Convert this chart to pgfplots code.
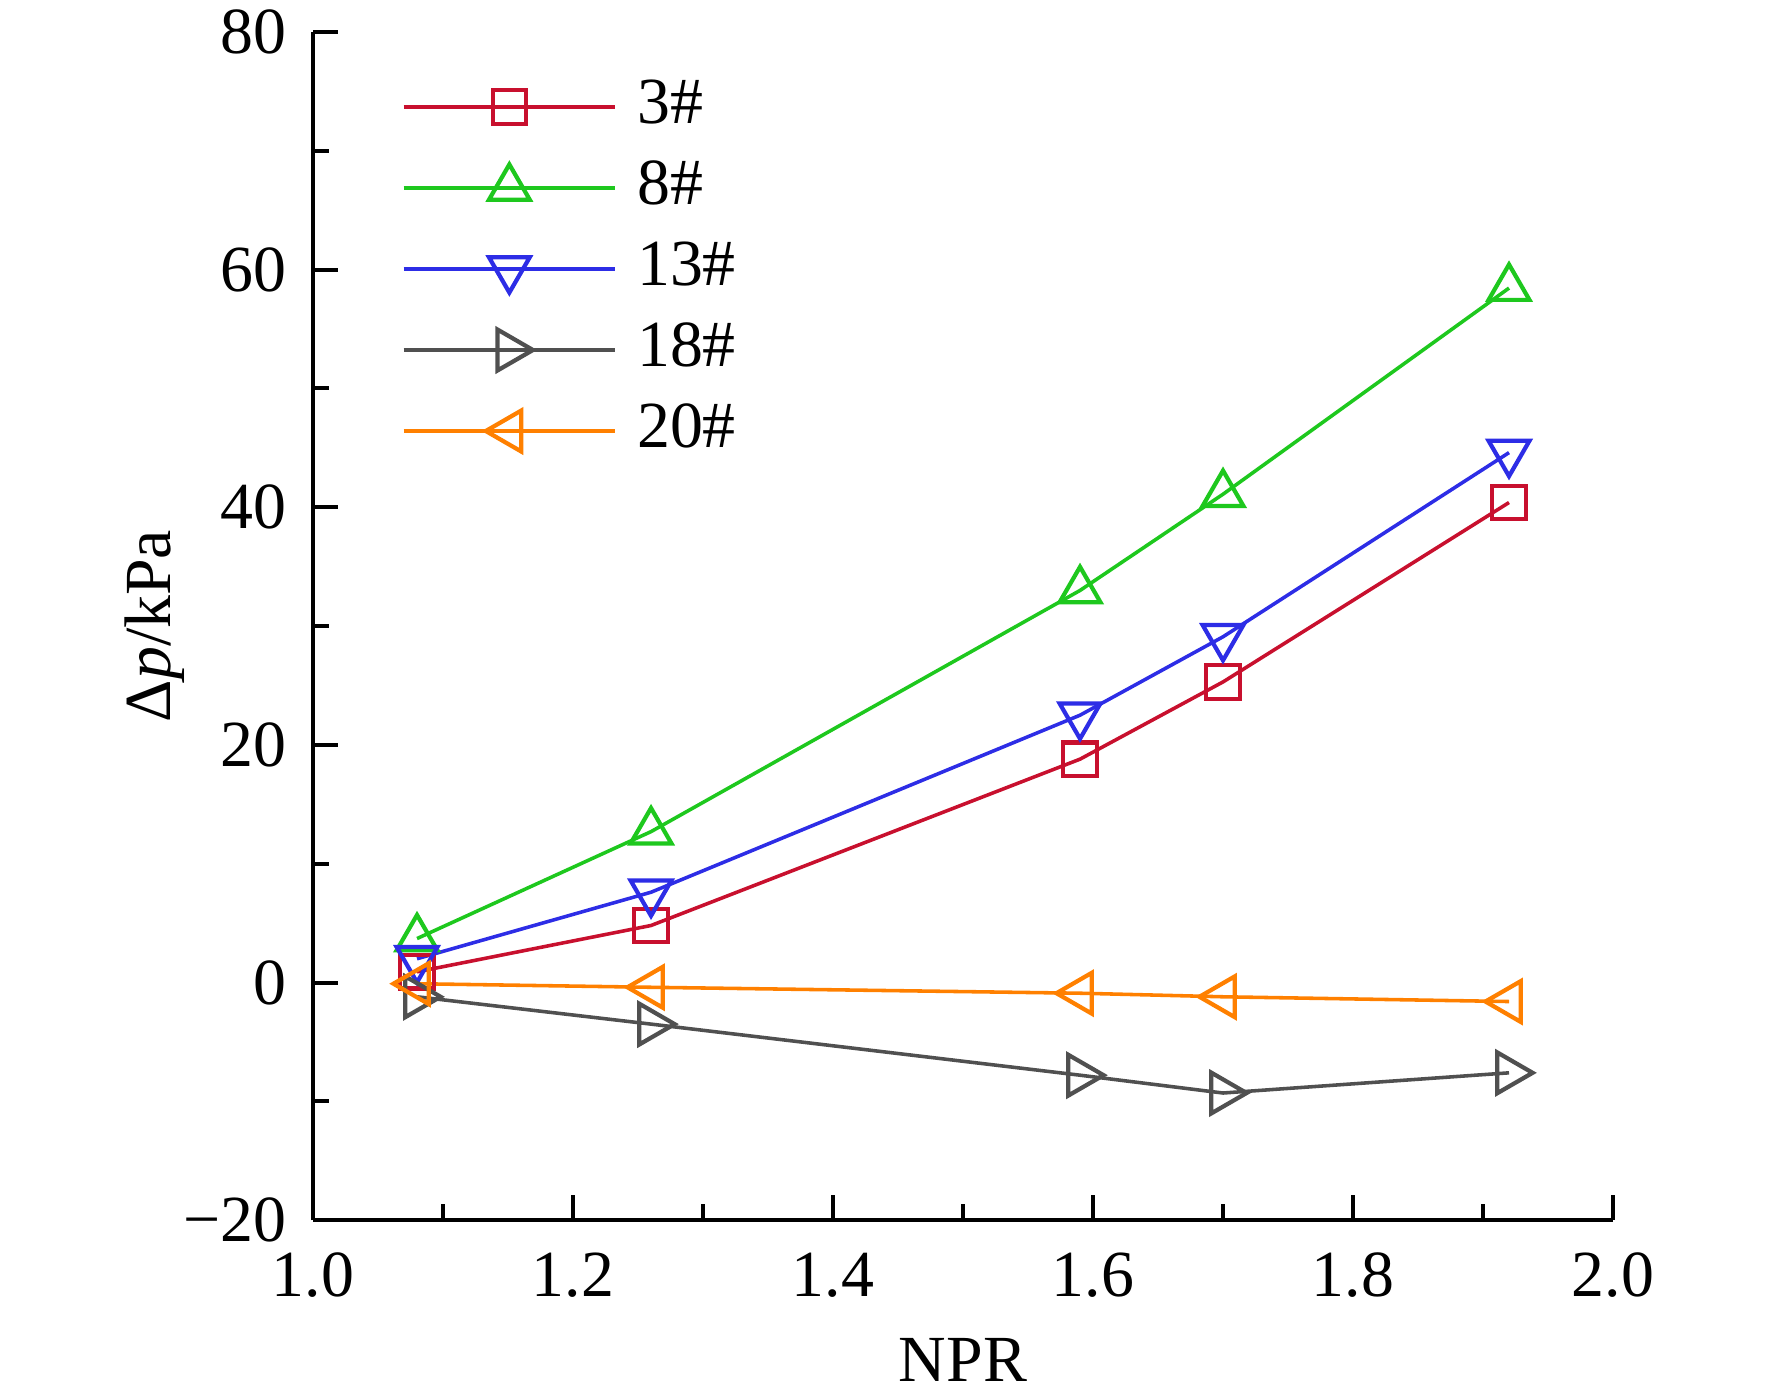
\documentclass[border=0pt]{standalone}
\usepackage{fontspec}
\setmainfont{Liberation Serif}
\usepackage{pgfplots}
\pgfplotsset{compat=1.18}
\usetikzlibrary{calc}
\definecolor{cRed}{RGB}{200,16,46}
\definecolor{cGreen}{RGB}{30,200,30}
\definecolor{cBlue}{RGB}{45,45,230}
\definecolor{cGray}{RGB}{80,80,80}
\definecolor{cOrange}{RGB}{255,128,0}
\begin{document}
\fontsize{14.8}{17.8}\selectfont
\begin{tikzpicture}
\begin{axis}[
  scale only axis,
  width=10.27cm, height=9.386cm,
  xmin=1.0, xmax=2.0, ymin=-20, ymax=80,
  axis lines*=left,
  axis line style={line width=0.9pt},
  xtick={1.0,1.2,1.4,1.6,1.8,2.0},
  xticklabels={1.0,1.2,1.4,1.6,1.8,2.0},
  ytick={-20,0,20,40,60,80},
  yticklabels={−20,0,20,40,60,80},
  minor tick num=1,
  tick align=inside,
  major tick length=0.2cm,
  minor tick length=0.125cm,
  every tick/.style={black, line width=0.9pt},
  xticklabel style={anchor=north, inner sep=0pt, yshift=-0.25cm},
  yticklabel style={anchor=east, inner sep=0pt, xshift=-0.205cm},
  xlabel={NPR},
  ylabel={Δ\textit{p}/kPa},
  xlabel style={at={(axis description cs:0.5,-0.1355)}, anchor=base},
  ylabel style={at={(axis description cs:-0.110,0.5)}, anchor=base, rotate=0},
  legend style={draw=none, fill=none, at={(axis description cs:0,1)}, anchor=north west,
    xshift=0.695cm, yshift=-0.265cm, inner sep=0pt, row sep=0pt,
    nodes={inner sep=0pt, minimum height=0.64cm, anchor=west},
    /tikz/every odd column/.append style={column sep=0.16cm}},
  legend cell align=left,
  legend image code/.code={%
    \draw[mark repeat=2, mark phase=2, #1] plot coordinates {(0cm,0cm) (0.835cm,0cm) (1.67cm,0cm)};},
  every axis plot/.append style={line width=0.8pt},
]
\addplot[cRed, mark=square, mark size=3.75pt, mark options={solid, line width=0.95pt}] coordinates {
  (1.08,0.9) (1.26,4.8) (1.59,18.8) (1.70,25.3) (1.92,40.4)};
\addlegendentry{3\#}
\addplot[cGreen, mark=triangle, mark size=5.3pt, mark options={solid, line width=0.95pt}] coordinates {
  (1.08,3.7) (1.26,12.7) (1.59,33.0) (1.70,41.1) (1.92,58.45)};
\addlegendentry{8\#}
\addplot[cBlue, mark=triangle, mark size=5.3pt, mark options={solid, rotate=180, line width=0.95pt}] coordinates {
  (1.08,2.0) (1.26,7.6) (1.59,22.5) (1.70,29.1) (1.92,44.6)};
\addlegendentry{13\#}
\addplot[cGray, mark=triangle, mark size=5.3pt, mark options={solid, rotate=-90, line width=0.95pt}] coordinates {
  (1.08,-1.2) (1.26,-3.5) (1.59,-7.8) (1.70,-9.3) (1.92,-7.6)};
\addlegendentry{18\#}
\addplot[cOrange, mark=triangle, mark size=5.3pt, mark options={solid, rotate=90, line width=0.95pt}] coordinates {
  (1.08,-0.1) (1.26,-0.4) (1.59,-0.9) (1.70,-1.2) (1.92,-1.6)};
\addlegendentry{20\#}
\end{axis}
\pgfresetboundingbox
\path[use as bounding box] ($(current axis.south west)+(-2.473cm,-1.414cm)$) rectangle ($(current axis.north east)+(1.256cm,0.253cm)$);
\end{tikzpicture}
\end{document}
